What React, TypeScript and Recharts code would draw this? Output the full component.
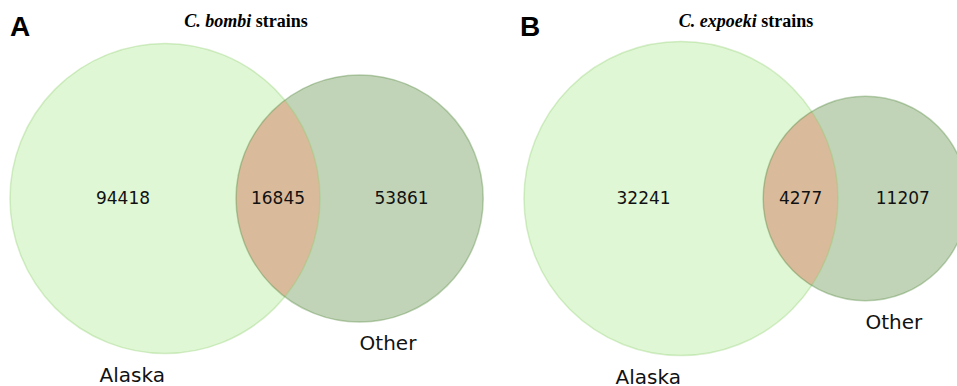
import { Customized, Scatter, ScatterChart, XAxis, YAxis } from "recharts";

// Two area-proportional Venn diagrams: shared gene families between Alaskan
// and other strains of C. bombi (A) and C. expoeki (B).

const panelLetters = ["A", "B"];
const species = ["C. bombi", "C. expoeki"];
const setNames = ["Alaska", "Other"];
const alaskaOnly = [94418, 32241];
const shared = [16845, 4277];
const otherOnly = [53861, 11207];

const W = 957;
const H = 386;

// layout of each panel (pixels)
const ALASKA_CX = [165, 681];
const ALASKA_R = [155, 157];
const CY = 198.5;
const TITLE_X = [246, 746];
const LETTER_X = [10, 520];

const SANS = "DejaVu Sans, sans-serif";

const ALASKA_FILL = "#e0f7d5";
const OTHER_FILL = "#c2d4b8";
const SHARED_FILL = "#d9bb9c";

function lensArea(r1: number, r2: number, d: number) {
  if (d >= r1 + r2) return 0;
  if (d <= Math.abs(r1 - r2)) return Math.PI * Math.min(r1, r2) ** 2;
  const d1 = (d * d + r1 * r1 - r2 * r2) / (2 * d);
  const d2 = d - d1;
  const seg = (r: number, a: number) => r * r * Math.acos(a / r) - a * Math.sqrt(r * r - a * a);
  return seg(r1, d1) + seg(r2, d2);
}

// circle sizes and spacing follow the set sizes: area ∝ count
const panels = panelLetters.map((_, i) => {
  const sizeA = alaskaOnly[i] + shared[i];
  const sizeB = otherOnly[i] + shared[i];
  const k = ALASKA_R[i] / Math.sqrt(sizeA);
  const r1 = ALASKA_R[i];
  const r2 = k * Math.sqrt(sizeB);
  const target = Math.PI * k * k * shared[i];
  let lo = Math.abs(r1 - r2);
  let hi = r1 + r2;
  for (let n = 0; n < 60; n++) {
    const mid = (lo + hi) / 2;
    if (lensArea(r1, r2, mid) > target) lo = mid;
    else hi = mid;
  }
  const d = (lo + hi) / 2;
  const c1 = ALASKA_CX[i];
  const c2 = c1 + d;
  return { c1, c2, r1, r2, d };
});

const circleRows = panels.flatMap((p) => [
  { x: p.c1, y: CY, r: p.r1, set: 0 },
  { x: p.c2, y: CY, r: p.r2, set: 1 },
]);

const lensRows = panels.map((p) => ({ x: p.c1, y: CY, ...p }));

const countRows = panels.flatMap((p, i) => [
  { x: (p.c1 - p.r1 + p.c2 - p.r2) / 2, y: CY, label: alaskaOnly[i] },
  { x: (p.c2 - p.r2 + p.c1 + p.r1) / 2, y: CY, label: shared[i] },
  { x: (p.c1 + p.r1 + p.c2 + p.r2) / 2, y: CY, label: otherOnly[i] },
]);

const setLabelRows = panels.flatMap((p) => [
  { x: p.c1, y: CY + p.r1 + 28, label: setNames[0], anchor: "end" },
  { x: p.c2, y: CY + p.r2 + 28, label: setNames[1], anchor: "start" },
]);

function CircleShape(props: any) {
  const { cx, cy, payload } = props;
  return (
    <circle
      cx={cx}
      cy={cy}
      r={payload.r}
      fill={payload.set === 0 ? ALASKA_FILL : OTHER_FILL}
      stroke="none"
    />
  );
}

function OutlineShape(props: any) {
  const { cx, cy, payload } = props;
  return (
    <circle
      cx={cx}
      cy={cy}
      r={payload.r}
      fill="none"
      stroke={payload.set === 0 ? "rgba(140,205,110,0.35)" : "rgba(95,145,75,0.4)"}
      strokeWidth={1.5}
    />
  );
}

function LensShape(props: any) {
  const { cx, cy, payload } = props;
  const { r1, r2, d } = payload;
  const d1 = (d * d + r1 * r1 - r2 * r2) / (2 * d);
  const h = Math.sqrt(r1 * r1 - d1 * d1);
  const px = cx + d1;
  const path =
    `M${px},${cy - h}` +
    ` A${r2},${r2} 0 0 0 ${px},${cy + h}` +
    ` A${r1},${r1} 0 0 0 ${px},${cy - h} Z`;
  return <path d={path} fill={SHARED_FILL} stroke="none" />;
}

function CountShape(props: any) {
  const { cx, cy, payload } = props;
  return (
    <text x={cx} y={cy} dy="0.35em" textAnchor="middle" fontFamily={SANS} fontSize={17} fill="#111">
      {payload.label}
    </text>
  );
}

function SetLabelShape(props: any) {
  const { cx, cy, payload } = props;
  return (
    <text x={cx} y={cy} textAnchor={payload.anchor} fontFamily={SANS} fontSize={20} fill="#111">
      {payload.label}
    </text>
  );
}

function Headings() {
  return (
    <g>
      {panelLetters.map((l, i) => (
        <g key={l}>
          <text
            x={LETTER_X[i]}
            y={36}
            fontFamily="Liberation Sans, Arial, sans-serif"
            fontWeight="bold"
            fontSize={28}
            fill="#000"
          >
            {l}
          </text>
          <text
            x={TITLE_X[i]}
            y={27}
            textAnchor="middle"
            fontFamily="Liberation Serif, Times New Roman, serif"
            fontWeight="bold"
            fontSize={18}
            fill="#000"
          >
            <tspan fontStyle="italic">{species[i]}</tspan> strains
          </text>
        </g>
      ))}
    </g>
  );
}

export default function App() {
  return (
    <div style={{ position: "absolute", left: 0, top: 0, background: "#fff" }}>
      <ScatterChart width={W} height={H} margin={{ top: 0, right: 0, bottom: 0, left: 0 }}>
        <XAxis type="number" dataKey="x" domain={[0, W]} hide allowDataOverflow />
        <YAxis type="number" dataKey="y" domain={[0, H]} reversed hide allowDataOverflow />
        <Scatter data={circleRows} shape={CircleShape} isAnimationActive={false} />
        <Scatter data={lensRows} shape={LensShape} isAnimationActive={false} />
        <Scatter data={circleRows} shape={OutlineShape} isAnimationActive={false} />
        <Scatter data={countRows} shape={CountShape} isAnimationActive={false} />
        <Scatter data={setLabelRows} shape={SetLabelShape} isAnimationActive={false} />
        <Customized component={<Headings />} />
      </ScatterChart>
    </div>
  );
}
